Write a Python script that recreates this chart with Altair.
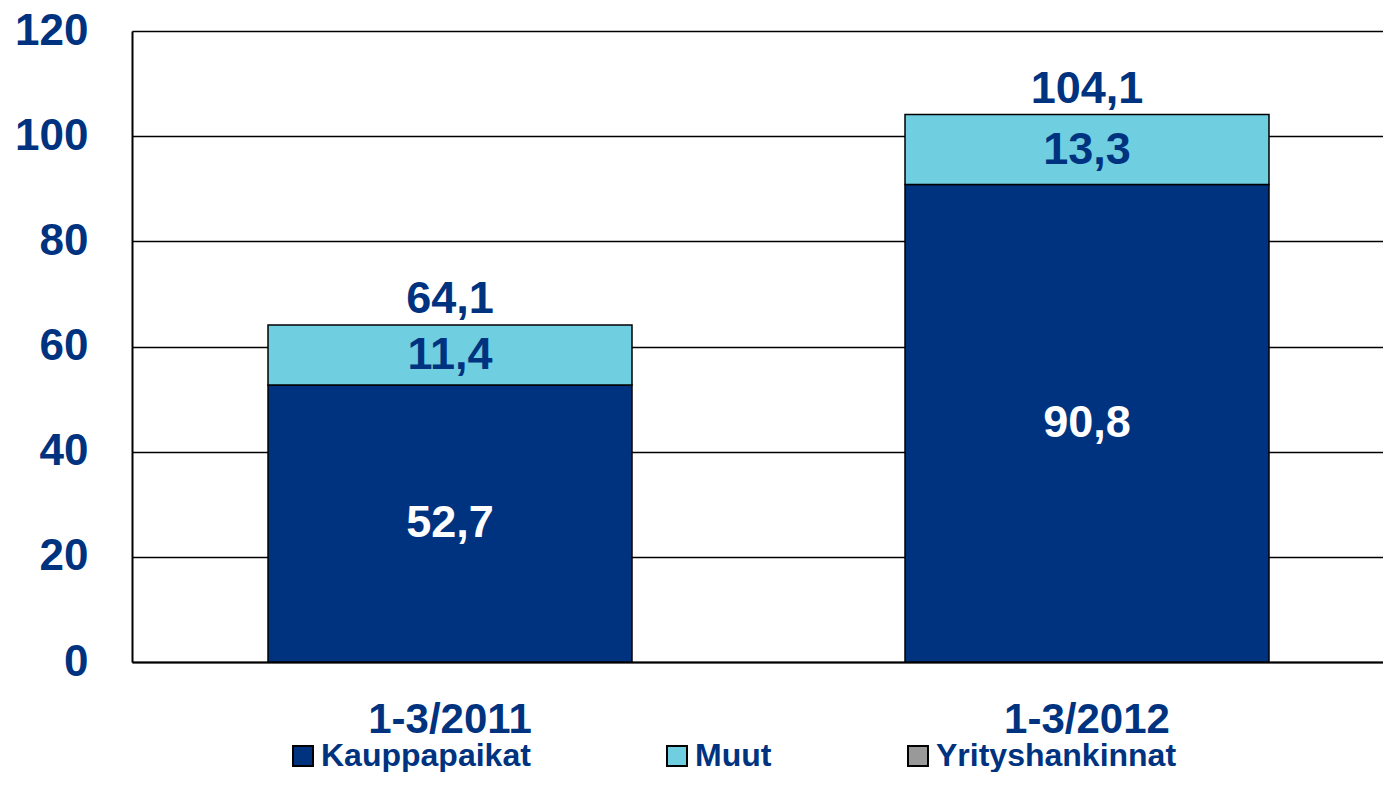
import altair as alt
import pandas as pd

periods = ["1-3/2011", "1-3/2012"]
series = ["Kauppapaikat", "Muut", "Yrityshankinnat"]
kauppapaikat = [52.7, 90.8]
muut = [11.4, 13.3]
totals = [64.1, 104.1]
colors = ["#00337F", "#6FCFE0", "#999999"]

NAVY = "#00337F"
FONT = "Liberation Sans"

def fmt(v):
    return f"{v:.1f}".replace(".", ",")

rows = []
for i, p in enumerate(periods):
    rows.append({"period": p, "series": "Kauppapaikat", "value": kauppapaikat[i], "ord": 0,
                 "label": fmt(kauppapaikat[i]), "tcolor": "white"})
    rows.append({"period": p, "series": "Muut", "value": muut[i], "ord": 1,
                 "label": fmt(muut[i]), "tcolor": NAVY})
df = pd.DataFrame(rows)
tot = pd.DataFrame({"period": periods, "total": totals, "label": [fmt(t) for t in totals]})

xscale = alt.Scale(domain=periods, paddingInner=0.4286, paddingOuter=0.19625, align=0.544)
yscale = alt.Scale(domain=[0, 120])

x = alt.X("period:N", scale=xscale, sort=periods, title=None,
          axis=alt.Axis(labelAngle=0, labelFontSize=42, labelFont=FONT, labelFontWeight="bold",
                        labelColor=NAVY, ticks=False, domainColor="black", domainWidth=2,
                        labelPadding=57, labelBaseline="middle"))

bars = alt.Chart(df).mark_bar(stroke="black", strokeWidth=1.5).encode(
    x=x,
    y=alt.Y("value:Q", stack="zero", scale=yscale, title=None,
            axis=alt.Axis(values=[0, 20, 40, 60, 80, 100, 120], labelFontSize=44, labelFont=FONT,
                          labelFontWeight="bold", labelColor=NAVY, ticks=False,
                          domainColor="black", domainWidth=2, gridColor="black", gridWidth=1.5,
                          labelPadding=44, labelBaseline="middle")),
    color=alt.Color("series:N", scale=alt.Scale(domain=series, range=colors),
                    legend=alt.Legend(title=None, orient="none", legendX=155, legendY=709,
                                      direction="horizontal", columns=3, columnPadding=130,
                                      symbolType="square", symbolSize=400, symbolStrokeColor="black",
                                      symbolStrokeWidth=2, labelFontSize=32, labelFont=FONT,
                                      labelFontWeight="bold", labelColor=NAVY, labelOffset=2,
                                      labelLimit=500, symbolOpacity=1)),
    order=alt.Order("ord:Q"),
)

seg_text = alt.Chart(df).transform_stack(
    stack="value", groupby=["period"], as_=["v0", "v1"], sort=[alt.SortField("ord")]
).transform_calculate(mid="(datum.v0 + datum.v1) / 2").mark_text(
    fontSize=45, font=FONT, fontWeight="bold", baseline="middle"
).encode(
    x=alt.X("period:N", scale=xscale, sort=periods),
    y=alt.Y("mid:Q", scale=yscale),
    text="label:N",
    color=alt.Color("tcolor:N", scale=None),
)

tot_text = alt.Chart(tot).mark_text(
    fontSize=45, font=FONT, fontWeight="bold", baseline="middle", dy=-26, color=NAVY
).encode(
    x=alt.X("period:N", scale=xscale, sort=periods),
    y=alt.Y("total:Q", scale=yscale),
    text="label:N",
)

chart = alt.layer(bars, seg_text, tot_text).properties(
    width=1251, height=631,
    autosize=alt.AutoSizeParams(type="none"),
    padding={"left": 124, "top": 23, "right": 0, "bottom": 110},
).configure_view(stroke=None).configure(background="white")

chart.save("out.html", embed_options={"renderer": "svg", "actions": False})
